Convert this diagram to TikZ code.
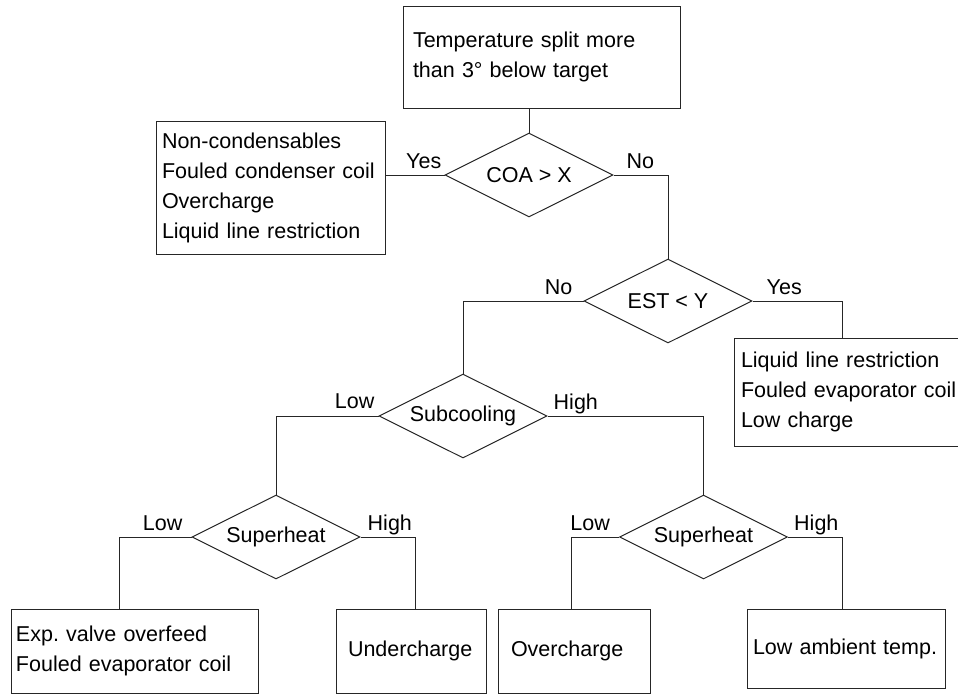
\documentclass[tikz,border=0pt]{standalone}
\usepackage{fontspec}
\setmainfont{Liberation Sans}
\usetikzlibrary{shapes.geometric}
\frenchspacing
\begin{document}
\begin{tikzpicture}[x=1pt,y=-1pt,
  every node/.style={font=\fontsize{21.5}{30}\selectfont},
  conn/.style={draw=black!85,line width=1pt},
  boxnode/.style={draw=black!85,line width=1pt,rectangle,align=left,inner ysep=0pt},
  decision/.style={draw=black!85,line width=1pt,diamond,minimum width=168pt,minimum height=84pt,inner sep=0pt,aspect=2},
  lbl/.style={inner sep=0pt}]
\useasboundingbox (0,0) rectangle (958,694);
% boxes
\node[boxnode,minimum height=102pt,inner xsep=10pt,text width=257pt] (top) at (541.5,57) {Temperature split more\\than 3° below target};
\node[boxnode,minimum height=133pt,inner xsep=6pt,text width=217pt] (lbox) at (270.5,187.5) {Non-condensables\\Fouled condenser coil\\Overcharge\\Liquid line restriction};
\node[boxnode,minimum height=108pt,inner xsep=7pt,text width=216pt] (rbox) at (849,392) {Liquid line restriction\\Fouled evaporator coil\\Low charge};
\node[boxnode,minimum height=84pt,inner xsep=5pt,text width=237pt] (b1) at (134.5,651) {Exp. valve overfeed\\Fouled evaporator coil};
\node[boxnode,minimum height=84pt,inner xsep=12pt,text width=126pt] (b2) at (411,651) {Undercharge};
\node[boxnode,minimum height=84pt,inner xsep=13pt,text width=126pt] (b3) at (574,651) {Overcharge};
\node[boxnode,minimum height=79pt,inner xsep=6pt,text width=186pt] (b4) at (846,648.5) {Low ambient temp.};
% decisions
\node[decision] (coa) at (529,175) {COA > X};
\node[decision] (est) at (668,301) {EST < Y};
\node[decision] (sub) at (463,416) {Subcooling};
\node[decision] (sh1) at (276,537) {Superheat};
\node[decision] (sh2) at (703.5,537) {Superheat};
% connectors
\draw[conn] (coa.north) -- (coa.north |- top.south);
\draw[conn] (coa.west) -- (coa.west -| lbox.east);
\draw[conn] (coa.east) -| (est.north);
\draw[conn] (est.west) -| (sub.north);
\draw[conn] (est.east) -| ([xshift=-7pt]rbox.north);
\draw[conn] (sub.west) -| (sh1.north);
\draw[conn] (sub.east) -| (sh2.north);
\draw[conn] (sh1.west) -| ([xshift=-15.5pt]b1.north);
\draw[conn] (sh1.east) -| ([xshift=4pt]b2.north);
\draw[conn] (sh2.west) -| ([xshift=-3pt]b3.north);
\draw[conn] (sh2.east) -| ([xshift=-4pt]b4.north);
% labels
\node[lbl,anchor=base east] (l1) at ([xshift=-3pt,yshift=7pt]coa.west) {Yes};
\node[lbl,anchor=base west] (l2) at ([xshift=13pt,yshift=7pt]coa.east) {No};
\node[lbl,anchor=base east] (l3) at ([xshift=-11pt,yshift=7pt]est.west) {No};
\node[lbl,anchor=base west] (l4) at ([xshift=14pt,yshift=7pt]est.east) {Yes};
\node[lbl,anchor=base east] (l5) at ([xshift=-4pt,yshift=8pt]sub.west) {Low};
\node[lbl,anchor=base west] (l6) at ([xshift=6pt,yshift=7pt]sub.east) {High};
\node[lbl,anchor=base east] (l7) at ([xshift=-9pt,yshift=7pt]sh1.west) {Low};
\node[lbl,anchor=base west] (l8) at ([xshift=7pt,yshift=7pt]sh1.east) {High};
\node[lbl,anchor=base east] (l9) at ([xshift=-9pt,yshift=7pt]sh2.west) {Low};
\node[lbl,anchor=base west] (l10) at ([xshift=6pt,yshift=7pt]sh2.east) {High};
\end{tikzpicture}
\end{document}
